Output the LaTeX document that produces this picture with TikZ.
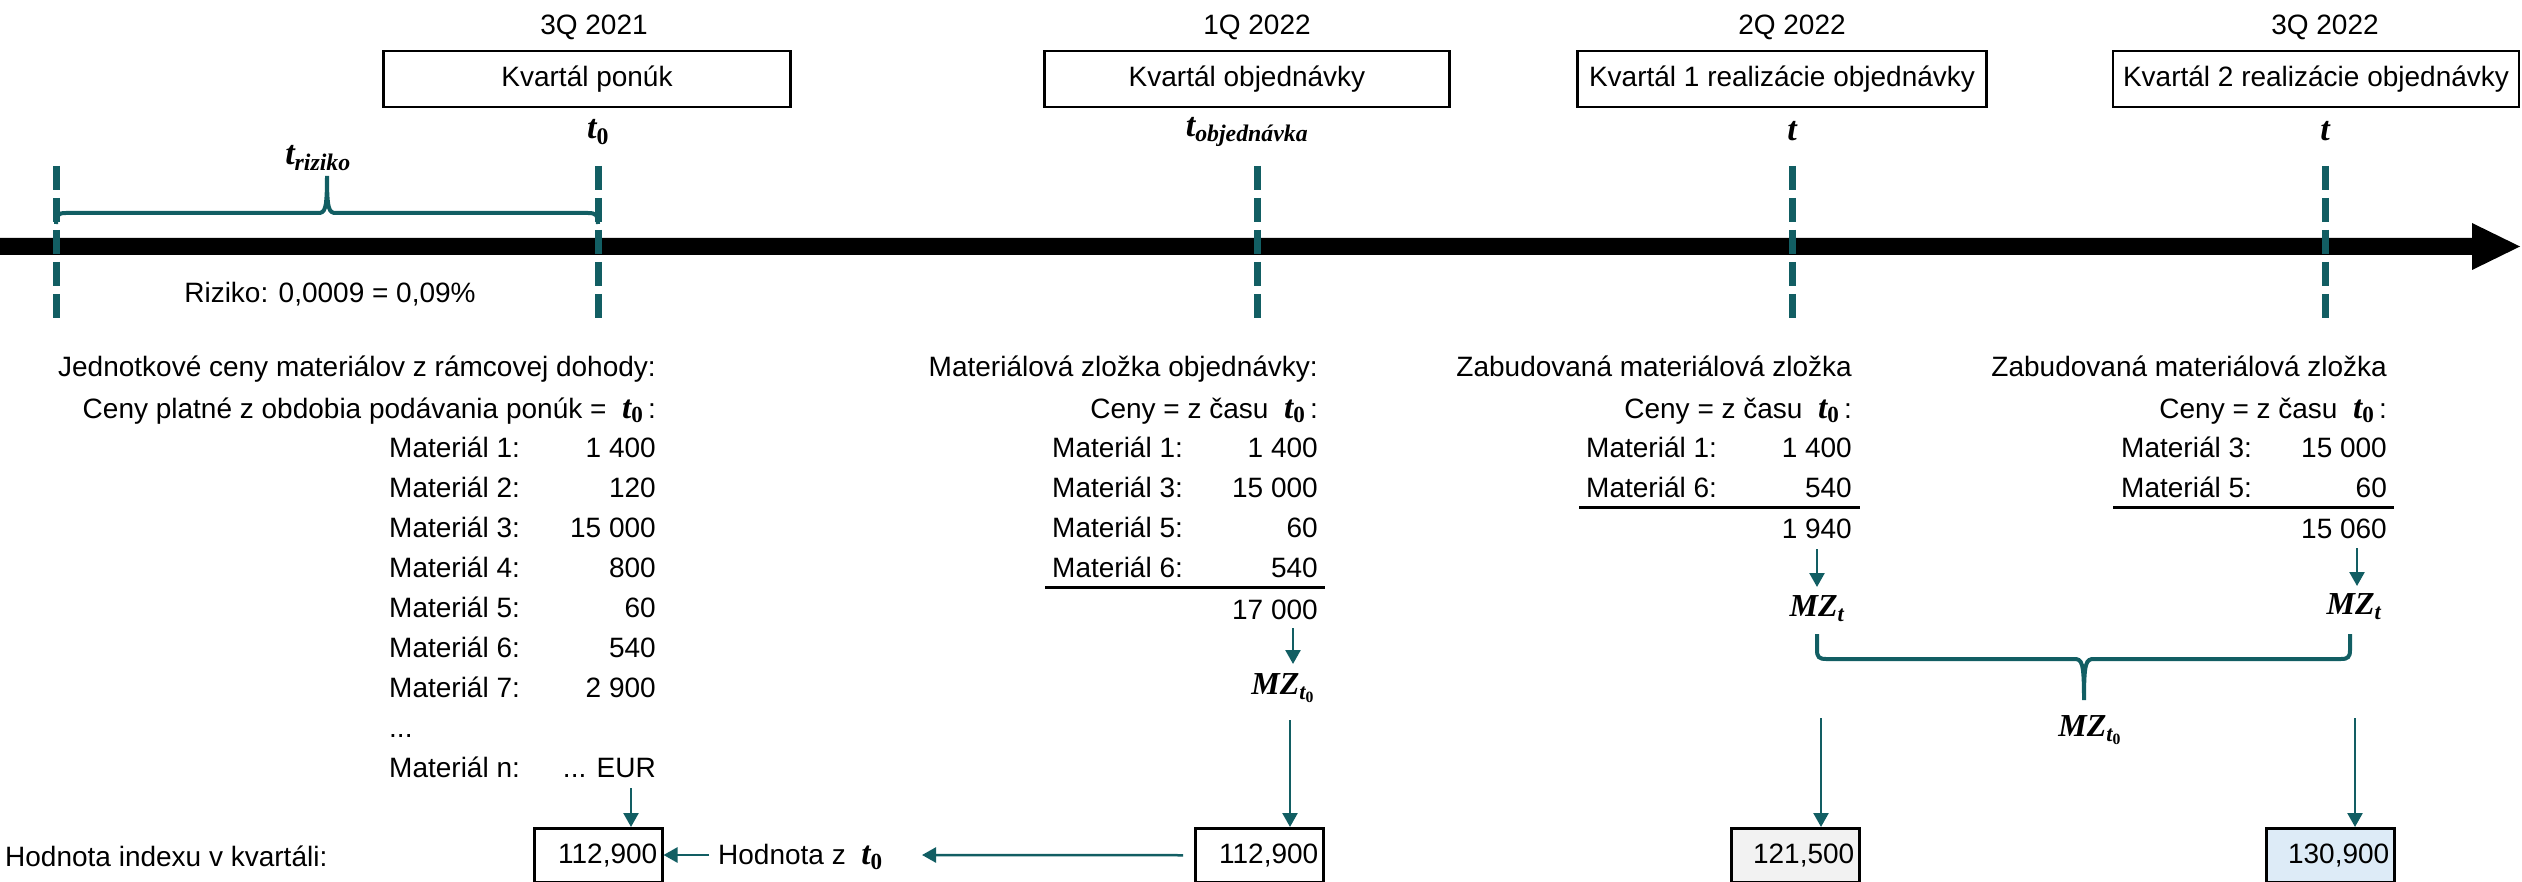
\RequirePackage{fix-cm}
\documentclass[tikz,border=0pt]{standalone}
\usepackage{fontspec}
\setmainfont{Liberation Sans}
\newfontfamily\cmbf{Liberation Serif}
\usetikzlibrary{arrows.meta,calc}
\definecolor{teal1}{RGB}{18,94,99}
\definecolor{boxgray}{RGB}{242,242,242}
\definecolor{boxblue}{RGB}{221,235,247}
\newcommand\myfs{\fontsize{28}{34}\selectfont}
\newcommand\mvar[1]{{\cmbf\bfseries\itshape #1}}
\newcommand\mup[1]{{\cmbf\bfseries #1}}
\newcommand\tnull{{\fontsize{33}{36}\selectfont\mvar{t}\textsubscript{\mup{0}}}}
\newcommand\mzt{{\fontsize{32}{36}\selectfont\mvar{MZ}\textsubscript{\mvar{t}}}}
\newcommand\mztn{{\fontsize{32}{36}\selectfont\mvar{MZ}\textsubscript{\mvar{t}\textsubscript{\mup{0}}}}}
\begin{document}
\begin{tikzpicture}[x=1pt,y=-1pt,
  every node/.style={inner sep=0pt, font=\myfs},
  qbox/.style={draw, line width=2.5pt, minimum height=56pt, inner sep=0pt},
  vbox/.style={draw, line width=2.5pt, minimum width=128pt, minimum height=54pt, anchor=north west, text width=118pt, align=right, inner xsep=5pt},
  tick/.style={draw=teal1, line width=7pt, dash pattern=on 24pt off 8pt},
  conn/.style={draw=teal1, line width=2.5pt, -{Triangle[length=14pt,width=15pt]}},
  brc/.style={draw=teal1, line width=4pt},
  ul/.style={draw, line width=3pt},
  rl/.style={anchor=base west},
  rr/.style={anchor=base east},
  mlab/.style={font=\fontsize{34}{38}\selectfont},
]
\useasboundingbox (0,0) rectangle (2522,882);
% timeline
\fill[black] (0,238) -- (2472,238) -- (2472,223) -- (2520,246.5) -- (2472,270) -- (2472,255) -- (0,255) -- cycle;
% ticks
\foreach \x/\n in {56/a,598/b,1257/c,1792/d,2325/e}{
  \coordinate (top\n) at (\x,166);
  \coordinate (bot\n) at (\x,318);
  \draw[tick] (top\n) -- (bot\n);
}
% quarter labels
\node (q1) at (594,27) {3Q 2021};
\node (q2) at (1257,27) {1Q 2022};
\node (q3) at (1792,27) {2Q 2022};
\node (q4) at (2325,27) {3Q 2022};
% boxes
\node[qbox, minimum width=407pt] (k1) at (587,79) {Kvartál ponúk};
\node[qbox, minimum width=405pt] (k2) at (1247,79) {Kvartál objednávky};
\node[qbox, minimum width=409pt] (k3) at (1782,79) {Kvartál 1 realizácie objednávky};
\node[qbox, minimum width=406pt] (k4) at (2316,79) {Kvartál 2 realizácie objednávky};
% t labels
\node[mlab] (t0) at (598,132) {\mvar{t}\textsubscript{\mup{0}}};
\node[mlab] (tobj) at (1247,132) {\mvar{t}\textsubscript{\mvar{objednávka}}};
\node[mlab] (ta) at (1792,131) {\mvar{t}};
\node[mlab] (tb) at (2325,131) {\mvar{t}};
\node[mlab] (trz) at (318,158) {\mvar{t}\textsubscript{\mvar{riziko}}};
% brace 1
\coordinate (b1l) at (56,224);
\coordinate (b1r) at (598,224);
\coordinate (b1t) at (327,176);
\draw[brc] (b1l) .. controls (56,215) and (58,213) .. (66,213) -- (318,213) .. controls (325,213) and (327,210) .. (b1t) .. controls (327,210) and (329,213) .. (336,213) -- (588,213) .. controls (596,213) and (598,215) .. (b1r);
\node (riz) at (330,294) {Riziko: 0,0009 = 0,09\%};
% column 1
\node[rr] (h1a) at (656,377) {Jednotkové ceny materiálov z rámcovej dohody:};
\node[rr] (h1b) at (656,418) {Ceny platné z obdobia podávania ponúk =\ \ \tnull\,:};
\foreach \i/\lab/\val in {0/1/1 400,1/2/120,2/3/15 000,3/4/800,4/5/60,5/6/540,6/7/2 900}{
  \node[rl] (m1l\i) at (389,{457+40*\i}) {Materiál \lab:};
  \node[rr] (m1v\i) at (656,{457+40*\i}) {\val};
}
\node[rl] (dots1) at (389,737) {...};
\node[rl] (mnl) at (389,777) {Materiál n:};
\node[rr] (mnv) at (656,777) {... EUR};
\node[vbox] (v1) at (533,827) {112,900};
\coordinate (a1) at (631,788);
\draw[conn] (a1) -- (a1 |- v1.north);
\node[anchor=west] (hi) at (5,856) {Hodnota indexu v kvartáli:};
\node[anchor=west] (hz) at (718,857) {Hodnota z\ \ \tnull};
\coordinate (hzl) at (709,855);
\draw[conn] (hzl) -- (hzl -| v1.east);
% column 2
\node[rr] (h2a) at (1318,377) {Materiálová zložka objednávky:};
\node[rr] (h2b) at (1318,418) {Ceny = z času\ \ \tnull\,:};
\foreach \i/\lab/\val in {0/1/1 400,1/3/15 000,2/5/60,3/6/540}{
  \node[rl] (m2l\i) at (1052,{457+40*\i}) {Materiál \lab:};
  \node[rr] (m2v\i) at (1318,{457+40*\i}) {\val};
}
\draw[ul] (1045,587) -- (1325,587);
\node[rr] (s2) at (1318,619) {17 000};
\coordinate (c2a) at (1293,628);
\draw[conn] (c2a) -- ++(0,36);
\node (mz2) at (1283,688) {\mztn};
\node[vbox] (v2) at (1194,827) {112,900};
\coordinate (c2b) at (1290,720);
\draw[conn] (c2b) -- (c2b |- v2.north);
\coordinate (la) at (922,855);
\draw[conn] ([xshift=-11pt]v2.west) -- (la);
% column 3
\node[rr] (h3a) at (1852,377) {Zabudovaná materiálová zložka};
\node[rr] (h3b) at (1852,418) {Ceny = z času\ \ \tnull\,:};
\foreach \i/\lab/\val in {0/1/1 400,1/6/540}{
  \node[rl] (m3l\i) at (1586,{457+40*\i}) {Materiál \lab:};
  \node[rr] (m3v\i) at (1852,{457+40*\i}) {\val};
}
\draw[ul] (1579,507) -- (1860,507);
\node[rr] (s3) at (1852,538) {1 940};
\coordinate (c3a) at (1817,549);
\draw[conn] (c3a) -- ++(0,38);
\node (mz3) at (1817,609) {\mzt};
\node[vbox, fill=boxgray] (v3) at (1730,827) {121,500};
\coordinate (c3b) at (1821,718);
\draw[conn] (c3b) -- (c3b |- v3.north);
% column 4
\node[rr] (h4a) at (2387,377) {Zabudovaná materiálová zložka};
\node[rr] (h4b) at (2387,418) {Ceny = z času\ \ \tnull\,:};
\foreach \i/\lab/\val in {0/3/15 000,1/5/60}{
  \node[rl] (m4l\i) at (2121,{457+40*\i}) {Materiál \lab:};
  \node[rr] (m4v\i) at (2387,{457+40*\i}) {\val};
}
\draw[ul] (2113,507) -- (2394,507);
\node[rr] (s4) at (2387,538) {15 060};
\coordinate (c4a) at (2357,548);
\draw[conn] (c4a) -- ++(0,38);
\node (mz4) at (2354,607) {\mzt};
\node[vbox, fill=boxblue] (v4) at (2265,827) {130,900};
\coordinate (c4b) at (2355,718);
\draw[conn] (c4b) -- (c4b |- v4.north);
% brace 2
\coordinate (b2l) at (1817,634);
\coordinate (b2r) at (2350,634);
\coordinate (b2t) at (2084,700);
\draw[brc] (b2l) -- (1817,650) .. controls (1817,657) and (1819,659) .. (1826,659) -- (2074,659) .. controls (2082,659) and (2084,662) .. (b2t) .. controls (2084,662) and (2086,659) .. (2094,659) -- (2341,659) .. controls (2348,659) and (2350,657) .. (2350,650) -- (b2r);
\node (mz5) at (2090,730) {\mztn};
\end{tikzpicture}
\end{document}
